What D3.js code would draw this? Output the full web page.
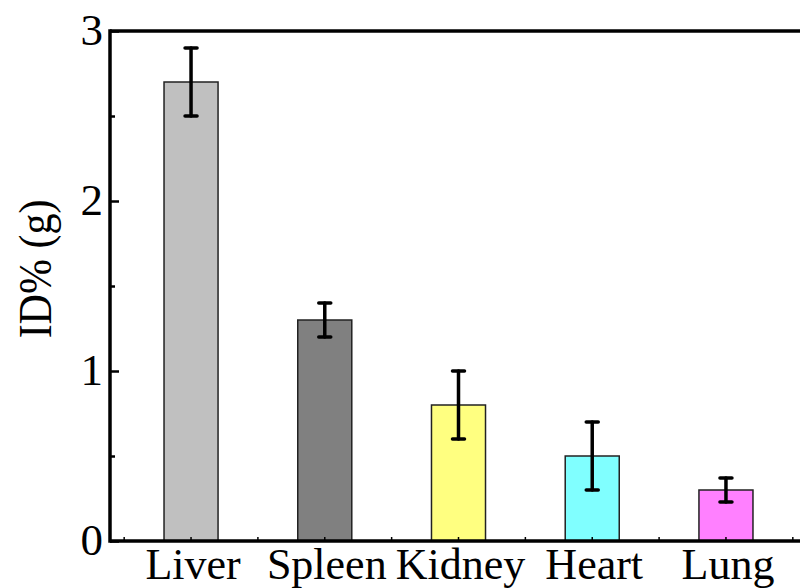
<!DOCTYPE html>
<html>
<head>
<meta charset="utf-8">
<script src="https://cdn.jsdelivr.net/npm/d3@7"></script>
<style>
  html, body { margin: 0; padding: 0; background: #fff; }
  svg { display: block; }
  text { font-family: "Liberation Serif", "Times New Roman", serif; fill: #000; }
</style>
</head>
<body>
<svg id="chart" width="800" height="588"></svg>
<script>
// Organ uptake (ID% per gram) with error bars
const organs = ["Liver", "Spleen", "Kidney", "Heart", "Lung"];
const uptake = [2.7, 1.3, 0.8, 0.5, 0.3];
const uptakeErr = [0.2, 0.1, 0.2, 0.2, 0.07];
const barColors = ["#c0c0c0", "#808080", "#ffff80", "#80ffff", "#ff80ff"];
const yTicks = [0, 1, 2, 3];
const yMinorTicks = [0.5, 1.5, 2.5];
const yLabel = "ID% (g)";

const svg = d3.select("#chart");
const plot = { left: 110, right: 807, top: 31, bottom: 541 };

const x = d3.scaleBand()
  .domain(organs)
  .range([plot.left, plot.right])
  .paddingInner(0.596)
  .paddingOuter(0.404);

const y = d3.scaleLinear().domain([0, 3]).range([plot.bottom, plot.top]);

// bars
svg.append("g").selectAll("rect")
  .data(organs)
  .join("rect")
  .attr("x", d => x(d))
  .attr("width", x.bandwidth())
  .attr("y", (d, i) => y(uptake[i]))
  .attr("height", (d, i) => y(0) - y(uptake[i]))
  .attr("fill", (d, i) => barColors[i])
  .attr("stroke", "#222")
  .attr("stroke-width", 1.5);

// error bars
const eb = svg.append("g")
  .attr("stroke", "#000")
  .attr("stroke-width", 3.5)
  .attr("stroke-linecap", "round");
organs.forEach((d, i) => {
  const cx = x(d) + x.bandwidth() / 2;
  const hi = y(uptake[i] + uptakeErr[i]);
  const lo = y(uptake[i] - uptakeErr[i]);
  eb.append("line").attr("x1", cx).attr("x2", cx).attr("y1", hi).attr("y2", lo);
  eb.append("line").attr("x1", cx - 6).attr("x2", cx + 6).attr("y1", hi).attr("y2", hi);
  eb.append("line").attr("x1", cx - 6).attr("x2", cx + 6).attr("y1", lo).attr("y2", lo);
});

// y axis: inward major and minor ticks
const yAxis = svg.append("g").attr("transform", `translate(${plot.left},0)`);
yAxis.call(d3.axisRight(y).tickValues(yTicks).tickSize(9).tickFormat(""));
yAxis.call(g => g.selectAll(".tick line").attr("stroke-width", 2.5));
yAxis.select(".domain").remove();
const yMinor = svg.append("g").attr("transform", `translate(${plot.left},0)`);
yMinor.call(d3.axisRight(y).tickValues(yMinorTicks).tickSize(5).tickFormat(""));
yMinor.call(g => g.selectAll(".tick line").attr("stroke-width", 2.5));
yMinor.select(".domain").remove();

svg.append("g").selectAll("text")
  .data(yTicks)
  .join("text")
  .attr("x", plot.left - 7)
  .attr("y", d => y(d))
  .attr("dy", "0.32em")
  .attr("text-anchor", "end")
  .attr("font-size", 45)
  .text(d => d);

// x axis: small inward ticks at categories and between them
const step = x.step();
const xMajor = organs.map(d => x(d) + x.bandwidth() / 2);
const xMinor = xMajor.map(c => c - step / 2).concat([xMajor[xMajor.length - 1] + step / 2]);
svg.append("g").selectAll("line")
  .data(xMajor.concat(xMinor))
  .join("line")
  .attr("x1", d => d).attr("x2", d => d)
  .attr("y1", plot.bottom).attr("y2", plot.bottom - 4)
  .attr("stroke", "#000").attr("stroke-width", 1.5);

svg.append("g").selectAll("text")
  .data(organs)
  .join("text")
  .attr("x", d => x(d) + x.bandwidth() / 2 + 2)
  .attr("y", 579)
  .attr("text-anchor", "middle")
  .attr("font-size", 44)
  .text(d => d);

// frame
const frame = svg.append("g").attr("stroke", "#000").attr("stroke-width", 3.5).attr("fill", "none");
frame.append("line").attr("x1", plot.left).attr("x2", plot.right).attr("y1", plot.top).attr("y2", plot.top);
frame.append("line").attr("x1", plot.left).attr("x2", plot.right).attr("y1", plot.bottom).attr("y2", plot.bottom);
frame.append("line").attr("x1", plot.left).attr("x2", plot.left).attr("y1", plot.top - 1.75).attr("y2", plot.bottom + 1.75);
frame.append("line").attr("x1", plot.right).attr("x2", plot.right).attr("y1", plot.top).attr("y2", plot.bottom);

// y axis title
svg.append("text")
  .attr("transform", `translate(51,${(195 + 343) / 2}) rotate(-90) scale(1,1.12)`)
  .attr("text-anchor", "middle")
  .attr("font-size", 42)
  .text(yLabel);
</script>
</body>
</html>
